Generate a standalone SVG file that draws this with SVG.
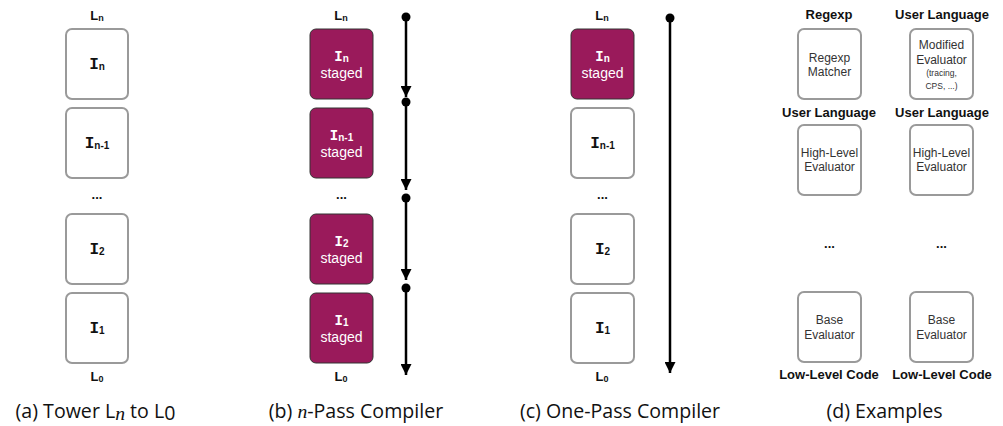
<svg xmlns="http://www.w3.org/2000/svg" width="1003" height="426" viewBox="0 0 1003 426">
<style>
.bg{fill:#fff}
.box{fill:#fff;stroke:#9a9a9a;stroke-width:2}
.sbox{fill:#9a1a5b;stroke:#333;stroke-width:1}
.lvl{font-family:"Liberation Sans",Arial,sans-serif;font-weight:bold;font-size:13px;fill:#111;text-anchor:middle}
.sub{font-size:9px}
.ii{font-family:"Liberation Mono","Courier New",monospace;font-weight:bold;font-size:16px;fill:#111;text-anchor:middle}
.iis{font-size:14px}
.isub{font-family:"Liberation Sans",Arial,sans-serif;font-weight:bold;font-size:10px}
.w{fill:#fff}
.stg{font-family:"Liberation Sans",Arial,sans-serif;font-size:14px;fill:#fff;text-anchor:middle}
.dots{font-family:"Liberation Sans",Arial,sans-serif;font-weight:bold;font-size:13px;fill:#111;text-anchor:middle}
.hd{font-family:"Liberation Sans",Arial,sans-serif;font-weight:bold;font-size:13px;fill:#111;text-anchor:middle}
.bt{font-family:"Liberation Sans",Arial,sans-serif;font-size:12px;fill:#333;text-anchor:middle}
.bts{font-family:"Liberation Sans",Arial,sans-serif;font-size:8.5px;fill:#333;text-anchor:middle}
.cap{font-family:"Open Sans","Noto Sans",sans-serif;font-size:19.6px;fill:#111;text-anchor:middle}
.it{font-family:"Liberation Serif","Times New Roman",serif;font-style:italic}
.ln{stroke:#000;stroke-width:2.5;fill:none}
</style>
<defs>
<marker id="ah" viewBox="0 0 10 10" refX="10" refY="5" markerWidth="4.4" markerHeight="4.4" markerUnits="strokeWidth" orient="auto">
<path d="M0,0 L10,5 L0,10 z" fill="#000"/>
</marker>
</defs>
<rect class="bg" width="1003" height="426"/>

<!-- Panel (a) -->
<g id="a-Ln"><text class="lvl" x="97" y="20">L<tspan class="sub" dy="1">n</tspan></text></g>
<g id="a-In"><rect class="box" x="66" y="29" width="62" height="70" rx="6"/><text class="ii" x="97" y="69">I<tspan class="isub" dy="1">n</tspan></text></g>
<g id="a-In1"><rect class="box" x="66" y="108" width="62" height="70" rx="6"/><text class="ii" x="97" y="148">I<tspan class="isub" dy="1">n-1</tspan></text></g>
<g id="a-dots"><text class="dots" x="97" y="199">...</text></g>
<g id="a-I2"><rect class="box" x="66" y="214" width="62" height="70" rx="6"/><text class="ii" x="97" y="254">I<tspan class="isub" dy="1">2</tspan></text></g>
<g id="a-I1"><rect class="box" x="66" y="293" width="62" height="70" rx="6"/><text class="ii" x="97" y="333">I<tspan class="isub" dy="1">1</tspan></text></g>
<g id="a-L0"><text class="lvl" x="97" y="381">L<tspan class="sub" dy="1">0</tspan></text></g>
<text class="cap" x="95.5" y="418">(a) Tower L<tspan class="it" dy="2">n</tspan><tspan dy="-2"> to L</tspan><tspan dy="2">0</tspan></text>

<!-- Panel (b) -->
<g id="b-Ln"><text class="lvl" x="341" y="20">L<tspan class="sub" dy="1">n</tspan></text></g>
<g id="b-In"><rect class="sbox" x="310" y="29" width="63" height="70" rx="6"/><text class="ii iis w" x="341.5" y="61">I<tspan class="isub w" dy="1">n</tspan></text><text class="stg" x="341.5" y="78">staged</text></g>
<g id="b-In1"><rect class="sbox" x="310" y="108" width="63" height="70" rx="6"/><text class="ii iis w" x="341.5" y="140">I<tspan class="isub w" dy="1">n-1</tspan></text><text class="stg" x="341.5" y="157">staged</text></g>
<g id="b-dots"><text class="dots" x="341.5" y="199">...</text></g>
<g id="b-I2"><rect class="sbox" x="310" y="214" width="63" height="70" rx="6"/><text class="ii iis w" x="341.5" y="246">I<tspan class="isub w" dy="1">2</tspan></text><text class="stg" x="341.5" y="263">staged</text></g>
<g id="b-I1"><rect class="sbox" x="310" y="293" width="63" height="70" rx="6"/><text class="ii iis w" x="341.5" y="325">I<tspan class="isub w" dy="1">1</tspan></text><text class="stg" x="341.5" y="342">staged</text></g>
<g id="b-L0"><text class="lvl" x="341" y="381">L<tspan class="sub" dy="1">0</tspan></text></g>
<text class="cap" x="356" y="418">(b) <tspan class="it">n</tspan>-Pass Compiler</text>

<!-- Panel (c) -->
<g id="c-Ln"><text class="lvl" x="602" y="20">L<tspan class="sub" dy="1">n</tspan></text></g>
<g id="c-In"><rect class="sbox" x="571" y="29" width="63" height="70" rx="6"/><text class="ii iis w" x="602.5" y="61">I<tspan class="isub w" dy="1">n</tspan></text><text class="stg" x="602.5" y="78">staged</text></g>
<g id="c-In1"><rect class="box" x="571" y="108" width="63" height="70" rx="6"/><text class="ii" x="602.5" y="148">I<tspan class="isub" dy="1">n-1</tspan></text></g>
<g id="c-dots"><text class="dots" x="602.5" y="199">...</text></g>
<g id="c-I2"><rect class="box" x="571" y="214" width="63" height="70" rx="6"/><text class="ii" x="602.5" y="254">I<tspan class="isub" dy="1">2</tspan></text></g>
<g id="c-I1"><rect class="box" x="571" y="293" width="63" height="70" rx="6"/><text class="ii" x="602.5" y="333">I<tspan class="isub" dy="1">1</tspan></text></g>
<g id="c-L0"><text class="lvl" x="602" y="381">L<tspan class="sub" dy="1">0</tspan></text></g>
<text class="cap" x="620" y="418">(c) One-Pass Compiler</text>

<!-- Panel (d) -->
<g id="d-h1"><text class="hd" x="829" y="19">Regexp</text><text class="hd" x="942" y="19">User Language</text></g>
<g id="d-regexp"><rect class="box" x="798" y="29" width="63" height="70" rx="6"/><text class="bt" x="829.5" y="62">Regexp</text><text class="bt" x="829.5" y="76">Matcher</text></g>
<g id="d-modified"><rect class="box" x="910" y="29" width="63" height="70" rx="6"/><text class="bt" x="941.5" y="49">Modified</text><text class="bt" x="941.5" y="64">Evaluator</text><text class="bts" x="941.5" y="76">(tracing,</text><text class="bts" x="941.5" y="89">CPS, ...)</text></g>
<g id="d-h2"><text class="hd" x="829" y="117">User Language</text><text class="hd" x="942" y="117">User Language</text></g>
<g id="d-hl1"><rect class="box" x="798" y="125" width="63" height="70" rx="6"/><text class="bt" x="829.5" y="157">High-Level</text><text class="bt" x="829.5" y="171">Evaluator</text></g>
<g id="d-hl2"><rect class="box" x="910" y="125" width="63" height="70" rx="6"/><text class="bt" x="941.5" y="157">High-Level</text><text class="bt" x="941.5" y="171">Evaluator</text></g>
<g id="d-dots"><text class="dots" x="829.5" y="248">...</text><text class="dots" x="941.5" y="248">...</text></g>
<g id="d-base1"><rect class="box" x="798" y="292" width="63" height="70" rx="6"/><text class="bt" x="829.5" y="324">Base</text><text class="bt" x="829.5" y="339">Evaluator</text></g>
<g id="d-base2"><rect class="box" x="910" y="292" width="63" height="70" rx="6"/><text class="bt" x="941.5" y="324">Base</text><text class="bt" x="941.5" y="339">Evaluator</text></g>
<g id="d-low"><text class="hd" x="829" y="379">Low-Level Code</text><text class="hd" x="942" y="379">Low-Level Code</text></g>
<text class="cap" x="884.5" y="418">(d) Examples</text>

<!-- Connectors -->
<g id="connectors">
<circle cx="406" cy="17" r="4.5" fill="#000"/><line class="ln" x1="406" y1="17" x2="406" y2="97" marker-end="url(#ah)"/>
<circle cx="406" cy="102" r="4.5" fill="#000"/><line class="ln" x1="406" y1="102" x2="406" y2="190" marker-end="url(#ah)"/>
<circle cx="406" cy="198" r="4.5" fill="#000"/><line class="ln" x1="406" y1="198" x2="406" y2="280" marker-end="url(#ah)"/>
<circle cx="406" cy="288" r="4.5" fill="#000"/><line class="ln" x1="406" y1="288" x2="406" y2="375" marker-end="url(#ah)"/>
<circle cx="670" cy="18" r="4.5" fill="#000"/><line class="ln" x1="670" y1="18" x2="670" y2="373" marker-end="url(#ah)"/>
</g>
</svg>
